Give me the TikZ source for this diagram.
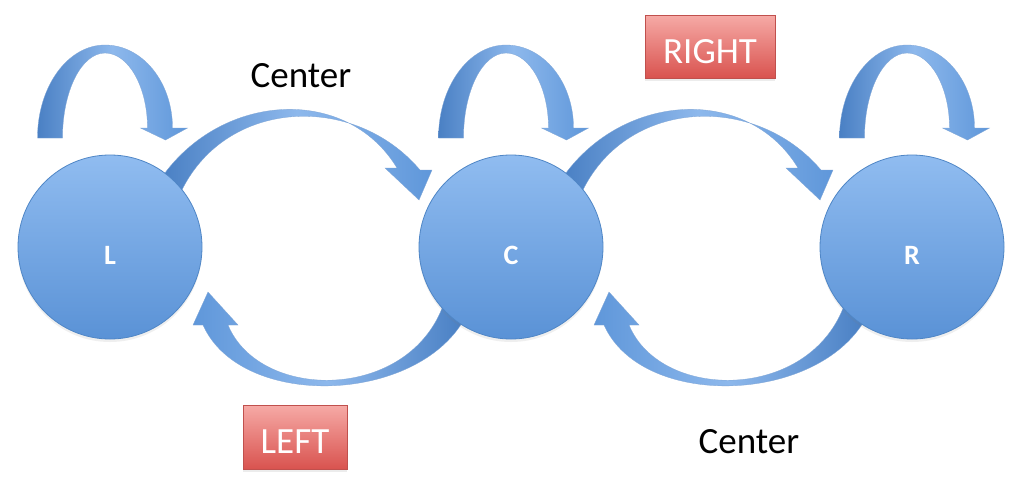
\documentclass[tikz,border=0pt]{standalone}
\usepackage{fontspec}
\setmainfont{Carlito}
\usetikzlibrary{shadows}
\definecolor{arrD}{HTML}{4A80C4}
\definecolor{arrM}{HTML}{5F97DA}
\definecolor{arrL}{HTML}{8DB8EC}
\definecolor{circT}{HTML}{90BCF0}
\definecolor{circB}{HTML}{5A92D6}
\definecolor{circE}{HTML}{4F86C6}
\definecolor{boxT}{HTML}{F6AAA6}
\definecolor{boxB}{HTML}{D9534F}
\definecolor{boxE}{HTML}{C0504D}
\pgfdeclarelayer{bg}
\pgfsetlayers{bg,main}
\tikzset{
  statecircle/.style={circle, minimum size=184pt, inner sep=0pt,
    top color=circT, bottom color=circB, draw=circE, line width=0.8pt,
    text=white, font=\fontsize{28}{28}\selectfont\bfseries, text height=35pt, text depth=0pt,
    drop shadow={opacity=0.12, shadow xshift=0pt, shadow yshift=-3pt}},
  redbox/.style={rectangle, inner sep=0pt, top color=boxT, bottom color=boxB,
    draw=boxE, line width=0.6pt, text=white, font=\fontsize{37}{37}\selectfont,
    text height=33pt, text depth=0pt,
    drop shadow={opacity=0.15, shadow xshift=0pt, shadow yshift=-3pt}},
  lbl/.style={font=\fontsize{37}{37}\selectfont, text=black, inner sep=0pt},
  ribbon/.style={draw=arrD!70, line width=0.3pt},
  selfloop/.pic={
    \shade[ribbon, left color=arrD, right color=arrM, middle color=arrL]
      (-72.5,-109) .. controls (-72.5,-160.4) and (-42.3,-202) .. (-5,-202)
      .. controls (32.3,-202) and (62.5,-165) .. (62.5,-119)
      -- (77.5,-119) -- (55.5,-107) -- (30.5,-119) -- (37.5,-119)
      .. controls (37.5,-160) and (18.5,-194) .. (-5,-194)
      .. controls (-28.5,-194) and (-47.5,-156) .. (-47.5,-109) -- cycle;
  },
  fwdarc/.pic={
    \shade[ribbon, left color=arrD, right color=arrM, middle color=arrL]
      (52,-70) .. controls (112,-155) and (237,-162) .. (287,-79)
      -- (275,-79) -- (309,-47) -- (322,-77) -- (310,-77)
      .. controls (244,-155) and (114,-149) .. (70,-53) -- cycle;
  },
  backarc/.pic={
    \shade[ribbon, left color=arrM, right color=arrD, middle color=arrL]
      (-49,76) .. controls (-101,158) and (-271,161) .. (-308,78)
      -- (-318,78) -- (-303,45) -- (-273,78) -- (-283,78)
      .. controls (-251,155) and (-101,155) .. (-67,56) -- cycle;
  }
}
\begin{document}
\begin{tikzpicture}[x=1pt,y=-1pt]
\useasboundingbox (0,0) rectangle (1024,482);

\node[statecircle] (L) at (110,247) {L};
\node[statecircle] (C) at (511,247) {C};
\node[statecircle] (R) at (912,247) {R};

\begin{pgfonlayer}{bg}
  \fill[white] (0,0) rectangle (1024,482);
  \pic at (L.center) {selfloop};
  \pic at (C.center) {selfloop};
  \pic at (R.center) {selfloop};
  \pic at (L.center) {fwdarc};
  \pic at (C.center) {fwdarc};
  \pic at (C.center) {backarc};
  \pic at (R.center) {backarc};
\end{pgfonlayer}

\node[lbl, anchor=base] (ctop) at (301,87) {Center};
\node[lbl, anchor=base] (cbot) at (749,453) {Center};
\node[redbox, minimum width=130pt, minimum height=63pt] (right) at (710,46.5) {RIGHT};
\node[redbox, minimum width=104pt, minimum height=64pt] (left) at (295,437) {LEFT};
\end{tikzpicture}
\end{document}
